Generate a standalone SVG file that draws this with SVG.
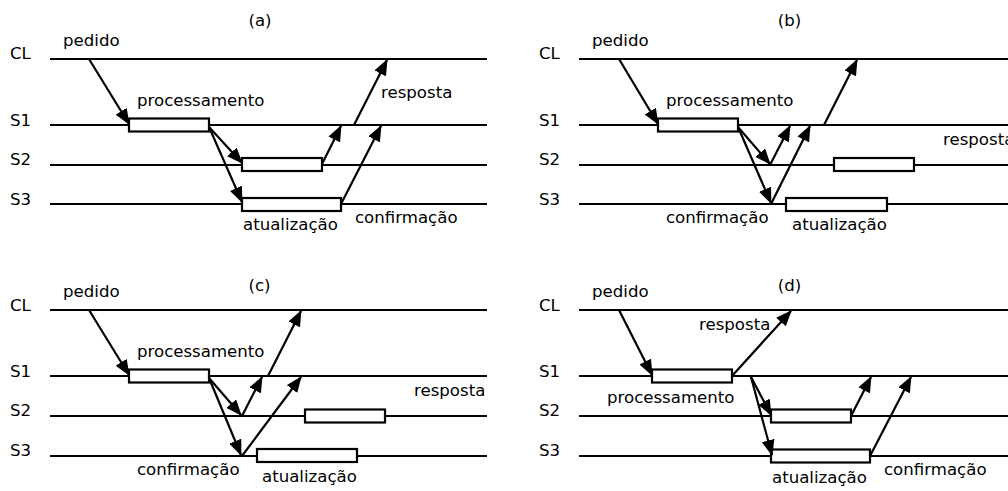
<svg xmlns="http://www.w3.org/2000/svg" width="1008" height="491" viewBox="0 0 1008 491">
<defs>
<style>
.ll{stroke:#000;stroke-width:2.2;fill:none}
.box{fill:#fff;stroke:#000;stroke-width:2.2}
.ar{stroke:#000;stroke-width:2.2;fill:none;marker-end:url(#ah)}
text{font-family:"DejaVu Sans","Liberation Sans",sans-serif;font-size:16.6px;fill:#000}
.c{text-anchor:middle}
</style>
<marker id="ah" markerUnits="userSpaceOnUse" viewBox="0 0 16 13" refX="15" refY="6.5" markerWidth="16" markerHeight="13" orient="auto">
<path d="M0,0 L16,6.5 L0,13 Z" fill="#000"/>
</marker>
</defs>
<rect width="1008" height="491" fill="#fff"/>

<!-- Panel (a) -->
<g id="panel-a">
<text class="c" x="260" y="26">(a)</text>
<g id="a-CL"><line class="ll" x1="50" y1="59" x2="487" y2="59"/><text x="10" y="59">CL</text></g>
<g id="a-S1"><line class="ll" x1="50" y1="125" x2="487" y2="125"/><text x="10" y="126">S1</text></g>
<g id="a-S2"><line class="ll" x1="50" y1="165" x2="487" y2="165"/><text x="10" y="165">S2</text></g>
<g id="a-S3"><line class="ll" x1="50" y1="204" x2="487" y2="204"/><text x="10" y="205">S3</text></g>
<g id="a-proc"><rect class="box" x="129" y="118.5" width="80" height="13"/><text x="137" y="106">processamento</text></g>
<g id="a-upd2"><rect class="box" x="242" y="158" width="80" height="13"/></g>
<g id="a-upd3"><rect class="box" x="242" y="198" width="99" height="13"/><text x="243" y="230">atualização</text></g>
<text x="63" y="46">pedido</text>
<text x="381" y="98">resposta</text>
<text x="355" y="223">confirmação</text>
</g>

<!-- Panel (b) -->
<g id="panel-b">
<text class="c" x="789.5" y="26">(b)</text>
<g id="b-CL"><line class="ll" x1="579" y1="59" x2="1008" y2="59"/><text x="539" y="59">CL</text></g>
<g id="b-S1"><line class="ll" x1="579" y1="125" x2="1008" y2="125"/><text x="539" y="126">S1</text></g>
<g id="b-S2"><line class="ll" x1="579" y1="165" x2="1008" y2="165"/><text x="539" y="165">S2</text></g>
<g id="b-S3"><line class="ll" x1="579" y1="204" x2="1008" y2="204"/><text x="539" y="205">S3</text></g>
<g id="b-proc"><rect class="box" x="658" y="118.5" width="80" height="13"/><text x="666" y="106">processamento</text></g>
<g id="b-upd2"><rect class="box" x="834" y="158" width="80" height="13"/></g>
<g id="b-upd3"><rect class="box" x="786" y="198" width="101" height="13"/><text x="792" y="230">atualização</text></g>
<text x="592" y="46">pedido</text>
<text x="943" y="145">resposta</text>
<text x="666" y="223">confirmação</text>
</g>

<!-- Panel (c) -->
<g id="panel-c">
<text class="c" x="259.5" y="291">(c)</text>
<g id="c-CL"><line class="ll" x1="50" y1="310" x2="487" y2="310"/><text x="10" y="311">CL</text></g>
<g id="c-S1"><line class="ll" x1="50" y1="376" x2="487" y2="376"/><text x="10" y="377">S1</text></g>
<g id="c-S2"><line class="ll" x1="50" y1="416" x2="487" y2="416"/><text x="10" y="416">S2</text></g>
<g id="c-S3"><line class="ll" x1="50" y1="456" x2="487" y2="456"/><text x="10" y="456">S3</text></g>
<g id="c-proc"><rect class="box" x="129" y="369.5" width="80" height="13"/><text x="137" y="357">processamento</text></g>
<g id="c-upd2"><rect class="box" x="305" y="409.5" width="80" height="13"/></g>
<g id="c-upd3"><rect class="box" x="257" y="449" width="100" height="13"/><text x="262" y="482">atualização</text></g>
<text x="63" y="297">pedido</text>
<text x="414" y="396">resposta</text>
<text x="137" y="475">confirmação</text>
</g>

<!-- Panel (d) -->
<g id="panel-d">
<text class="c" x="789.5" y="291">(d)</text>
<g id="d-CL"><line class="ll" x1="579" y1="310" x2="1008" y2="310"/><text x="539" y="311">CL</text></g>
<g id="d-S1"><line class="ll" x1="579" y1="376" x2="1008" y2="376"/><text x="539" y="377">S1</text></g>
<g id="d-S2"><line class="ll" x1="579" y1="416" x2="1008" y2="416"/><text x="539" y="416">S2</text></g>
<g id="d-S3"><line class="ll" x1="579" y1="456" x2="1008" y2="456"/><text x="539" y="456">S3</text></g>
<g id="d-proc"><rect class="box" x="652" y="369.5" width="80" height="13"/><text x="607" y="403">processamento</text></g>
<g id="d-upd2"><rect class="box" x="771" y="409.5" width="80" height="13"/></g>
<g id="d-upd3"><rect class="box" x="771" y="449.5" width="99" height="13"/><text x="772" y="483">atualização</text></g>
<text x="592" y="297">pedido</text>
<text x="699" y="330">resposta</text>
<text x="884" y="475">confirmação</text>
</g>

<g id="connectors">
<line class="ar" x1="89" y1="59" x2="129" y2="124"/>
<line class="ar" x1="209" y1="127" x2="242" y2="163"/>
<line class="ar" x1="209" y1="127" x2="242" y2="202"/>
<line class="ar" x1="322" y1="164" x2="341" y2="126"/>
<line class="ar" x1="341" y1="204" x2="381" y2="126"/>
<line class="ar" x1="354" y1="125" x2="387" y2="60"/>

<line class="ar" x1="619" y1="59" x2="658" y2="124"/>
<line class="ar" x1="738" y1="127" x2="770" y2="164"/>
<line class="ar" x1="738" y1="127" x2="771" y2="203"/>
<line class="ar" x1="770" y1="165" x2="790" y2="126"/>
<line class="ar" x1="771" y1="204" x2="810" y2="126"/>
<line class="ar" x1="824" y1="125" x2="857" y2="60"/>

<line class="ar" x1="89" y1="310" x2="129" y2="375"/>
<line class="ar" x1="209" y1="378" x2="241" y2="415"/>
<line class="ar" x1="209" y1="378" x2="241" y2="455"/>
<line class="ar" x1="242" y1="416" x2="262" y2="377"/>
<line class="ar" x1="242" y1="456" x2="301" y2="377"/>
<line class="ar" x1="268" y1="376" x2="301" y2="311"/>

<line class="ar" x1="619" y1="310" x2="652" y2="375"/>
<line class="ar" x1="732" y1="376" x2="791" y2="311"/>
<line class="ar" x1="751" y1="377" x2="771" y2="415"/>
<line class="ar" x1="751" y1="377" x2="772" y2="455"/>
<line class="ar" x1="851" y1="416" x2="871" y2="377"/>
<line class="ar" x1="870" y1="456" x2="911" y2="377"/>
</g>
</svg>
